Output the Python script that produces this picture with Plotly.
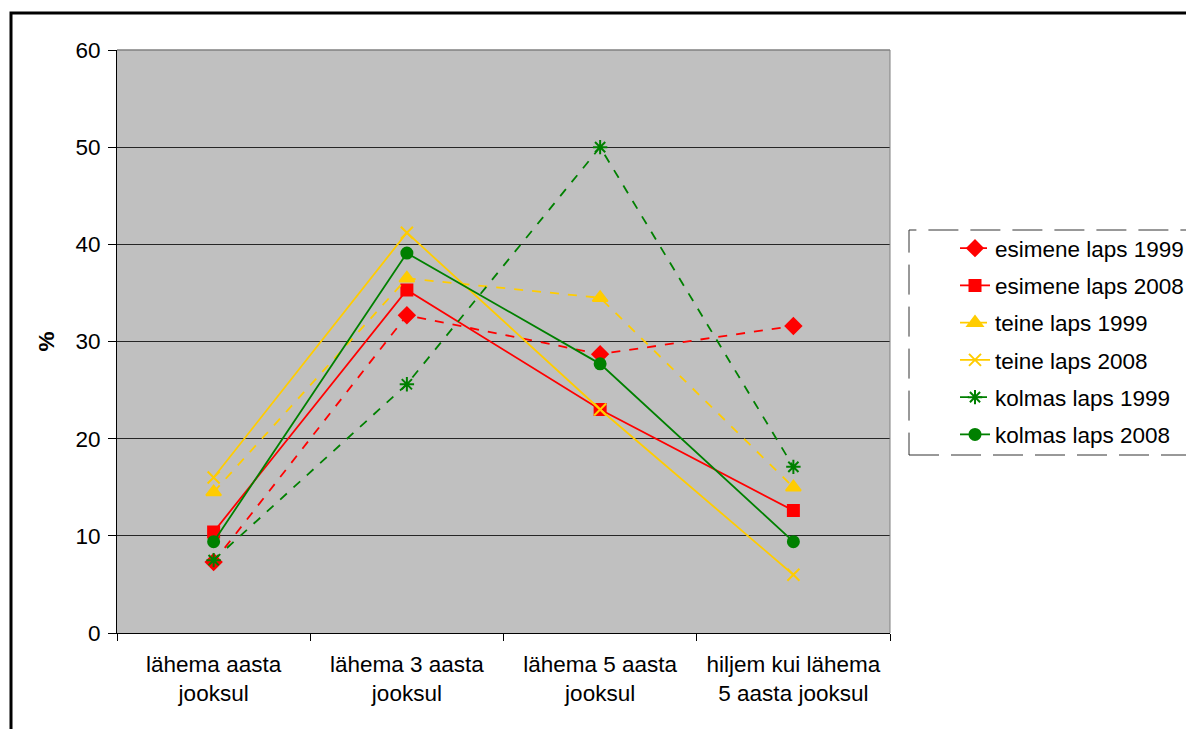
import plotly.graph_objects as go

categories = ["lähema aasta<br>jooksul", "lähema 3 aasta<br>jooksul",
              "lähema 5 aasta<br>jooksul", "hiljem kui lähema<br>5 aasta jooksul"]

esimene_1999 = [7.3, 32.7, 28.7, 31.6]
esimene_2008 = [10.4, 35.3, 23.0, 12.6]
teine_1999 = [14.5, 36.5, 34.5, 15.0]
teine_2008 = [16.0, 41.2, 23.0, 6.0]
kolmas_1999 = [7.5, 25.6, 50.0, 17.1]
kolmas_2008 = [9.4, 39.1, 27.7, 9.4]

y_ticks = [0, 10, 20, 30, 40, 50, 60]

RED = "#FF0000"
YEL = "#FFCC00"
GRN = "#008000"

series = [
    ("esimene laps 1999", esimene_1999, RED, "dash", "diamond", 12),
    ("esimene laps 2008", esimene_2008, RED, "solid", "square", 11),
    ("teine laps 1999", teine_1999, YEL, "dash", "triangle-up", 13),
    ("teine laps 2008", teine_2008, YEL, "solid", "x-thin-open", 12),
    ("kolmas laps 1999", kolmas_1999, GRN, "dash", "asterisk-open", 12),
    ("kolmas laps 2008", kolmas_2008, GRN, "solid", "circle", 11),
]

fig = go.Figure()
for i, (name, vals, col, dash, sym, sz) in enumerate(series):
    fig.add_trace(go.Scatter(
        x=categories, y=vals, name=name, mode="lines+markers",
        line=dict(color=col, width=1.8, dash=dash),
        marker=dict(symbol=sym, size=sz, color=col, line=dict(color=col, width=2)),
        legendgroup=f"g{i}",
    ))

FONT = "Liberation Sans, Arial, sans-serif"
FS = 22.5
fig.update_layout(
    width=1186, height=729,
    margin=dict(l=117, r=296, t=50, b=96, autoexpand=False),
    paper_bgcolor="white", plot_bgcolor="#C0C0C0",
    font=dict(family=FONT, size=FS, color="black"),
    showlegend=True,
    legend=dict(x=(955 - 117) / 773, y=(633 - 227) / 583, xanchor="left", yanchor="top",
                font=dict(size=FS), tracegroupgap=5,
                bgcolor="rgba(0,0,0,0)", borderwidth=0),
    xaxis=dict(range=[-0.5, 3.5], tickson="boundaries", ticks="outside", ticklen=7,
               tickcolor="black", showline=True, linecolor="black", linewidth=1,
               showgrid=False, tickfont=dict(size=FS), ticklabelstandoff=11),
    yaxis=dict(range=[0, 60], tickvals=y_ticks, ticks="outside", ticklen=8,
               tickcolor="black", showline=True, linecolor="black", linewidth=1,
               gridcolor="#262626", gridwidth=1.2, zeroline=False,
               tickfont=dict(size=FS), ticklabelstandoff=3,
               title=dict(text="<b>%</b>", font=dict(size=FS), standoff=14)),
    shapes=[
        dict(type="rect", xref="paper", yref="paper",
             x0=(11 - 117) / 773, x1=1.40, y0=-0.2, y1=(633 - 13) / 583,
             line=dict(color="black", width=3), fillcolor="rgba(0,0,0,0)", layer="below"),
        dict(type="line", xref="paper", yref="paper", x0=0, x1=1, y0=1, y1=1,
             line=dict(color="#808080", width=1.5)),
        dict(type="line", xref="paper", yref="paper", x0=1, x1=1, y0=0, y1=1,
             line=dict(color="#808080", width=1)),
        dict(type="rect", xref="paper", yref="paper",
             x0=(909 - 117) / 773, x1=1.4, y0=(633 - 455) / 583, y1=(633 - 230) / 583,
             line=dict(color="#333333", width=1, dash="30px,12px"),
             fillcolor="rgba(0,0,0,0)"),
    ],
)

fig.write_html("out.html", config={"displayModeBar": False},
               post_script="document.body.style.margin='0px';document.body.style.overflow='hidden';")
